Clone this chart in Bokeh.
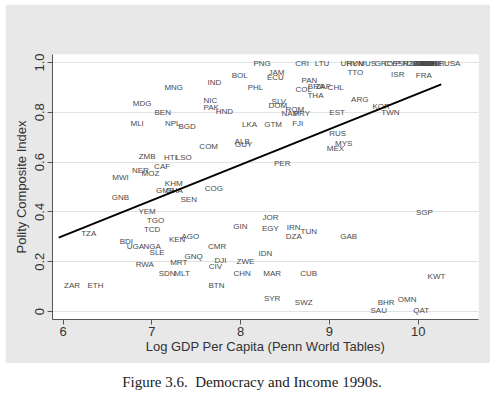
from bokeh.plotting import figure
from bokeh.models import ColumnDataSource, FixedTicker, Div
from bokeh.layouts import column
from bokeh.core.properties import value
from bokeh.embed import file_html
from bokeh.resources import INLINE

# ---- data ----
countries = [
    "MNG", "MDG", "BEN", "MLI", "NPL", "BGD",
    "PNG", "CRI", "LTU", "JAM", "ECU", "BOL", "IND", "PHL",
    "PAN", "COL", "BRA", "ZAF", "CHL", "THA",
    "NIC", "PAK", "HND", "SLV", "DOM", "ROM", "NAM", "PRY",
    "LKA", "GTM", "FJI", "COM", "ALB", "GUY",
    "URY", "HUN", "MUS", "GRC", "CYP", "ESP", "NZL", "GBR", "ITA", "AUS",
    "SWE", "NLD", "BEL", "DNK", "AUT", "CAN", "JPN", "CHE", "NOR", "USA",
    "TTO", "ISR", "FRA", "ARG", "KOR", "TWN", "EST", "RUS", "MYS", "MEX",
    "ZMB", "HTI", "LSO", "CAF", "NER", "MOZ", "MWI", "KHM", "GMB", "GHA",
    "GNB", "SEN", "YEM", "TGO", "TCD", "TZA", "KEN", "AGO", "BDI", "UGA",
    "NGA", "SLE", "RWA", "MRT", "SDN", "MLT", "ZAR", "ETH",
    "PER", "COG", "JOR", "GIN", "EGY", "IRN", "TUN", "DZA",
    "CMR", "GNQ", "DJI", "CIV", "ZWE", "IDN", "CHN", "MAR", "CUB", "BTN",
    "SYR", "SWZ", "SGP", "GAB", "KWT", "BHR", "OMN", "SAU", "QAT",
]
log_gdp = [
    7.246, 6.890, 7.122, 6.834, 7.235, 7.397,
    8.242, 8.693, 8.918, 8.403, 8.392, 7.990, 7.705, 8.167,
    8.775, 8.711, 8.850, 8.930, 9.070, 8.843,
    7.660, 7.667, 7.817, 8.430, 8.418, 8.610, 8.560, 8.690,
    8.100, 8.366, 8.643, 7.640, 8.017, 8.035,
    9.220, 9.290, 9.425, 9.610, 9.710, 9.800, 9.910, 9.970, 10.000, 10.050,
    10.060, 10.080, 10.100, 10.120, 10.100, 10.150, 10.130, 10.180, 10.200, 10.383,
    9.293, 9.770, 10.063, 9.342, 9.583, 9.688, 9.087, 9.094, 9.162, 9.068,
    6.946, 7.209, 7.359, 7.115, 6.871, 6.984, 6.646, 7.246, 7.150, 7.250,
    6.646, 7.415, 6.946, 7.040, 7.003, 6.288, 7.284, 7.434, 6.713, 6.815,
    7.003, 7.059, 6.920, 7.303, 7.172, 7.340, 6.101, 6.364,
    8.468, 7.697, 8.336, 7.998, 8.336, 8.598, 8.767, 8.598,
    7.735, 7.470, 7.772, 7.716, 8.054, 8.280, 8.017, 8.355, 8.767, 7.727,
    8.355, 8.711, 10.071, 9.218, 10.206, 9.640, 9.876, 9.556, 10.034,
]
polity = [
    0.898, 0.837, 0.798, 0.754, 0.754, 0.743,
    0.995, 0.995, 0.995, 0.961, 0.941, 0.948, 0.921, 0.898,
    0.928, 0.892, 0.905, 0.905, 0.900, 0.867,
    0.847, 0.818, 0.803, 0.845, 0.827, 0.810, 0.796, 0.794,
    0.751, 0.751, 0.756, 0.664, 0.684, 0.669,
    0.995, 0.995, 0.995, 0.995, 0.995, 0.995, 0.995, 0.995, 0.995, 0.995,
    0.995, 0.995, 0.995, 0.995, 0.995, 0.995, 0.995, 0.995, 0.995, 0.995,
    0.959, 0.950, 0.947, 0.853, 0.823, 0.800, 0.798, 0.714, 0.675, 0.653,
    0.622, 0.620, 0.620, 0.582, 0.566, 0.553, 0.537, 0.513, 0.486, 0.486,
    0.459, 0.449, 0.402, 0.365, 0.328, 0.312, 0.288, 0.301, 0.282, 0.261,
    0.261, 0.238, 0.188, 0.198, 0.151, 0.151, 0.104, 0.104,
    0.596, 0.493, 0.379, 0.341, 0.335, 0.336, 0.322, 0.301,
    0.262, 0.221, 0.205, 0.181, 0.201, 0.232, 0.154, 0.154, 0.154, 0.104,
    0.053, 0.037, 0.399, 0.301, 0.141, 0.037, 0.047, 0.004, 0.004,
]

# fitted line (endpoints)
fit_x = [5.95, 10.26]
fit_y = [0.297, 0.912]

x_ticks = [6, 7, 8, 9, 10]
y_ticks = [0, 0.2, 0.4, 0.6, 0.8, 1.0]
y_tick_labels = {0: "0", 0.2: "0.2", 0.4: "0.4", 0.6: "0.6", 0.8: "0.8", 1.0: "1.0"}

GRAY_BG = "#e8e8e8"
AXIS_COL = "#555555"
FONT = "Liberation Sans"

p = figure(width=485, height=359, output_backend="svg", toolbar_location=None,
           x_range=(5.88, 10.68), y_range=(-0.032, 1.032),
           min_border_left=47, min_border_right=12, min_border_top=50, min_border_bottom=44,
           margin=(4, 0, 0, 5))
p.border_fill_color = GRAY_BG
p.background_fill_color = "white"
p.outline_line_color = None

src = ColumnDataSource(dict(x=log_gdp, y=polity, lab=countries))
p.text(x="x", y="y", text="lab", source=src, text_align="center", text_baseline="middle",
       text_font=value(FONT), text_font_size="8px", text_color="#4a4a4a")
p.line(fit_x, fit_y, line_color="black", line_width=2)

p.xgrid.visible = False
p.ygrid.ticker = FixedTicker(ticks=y_ticks)
p.ygrid.grid_line_color = "#e2e2e2"
p.ygrid.grid_line_width = 1

p.xaxis.ticker = FixedTicker(ticks=x_ticks)
p.yaxis.ticker = FixedTicker(ticks=y_ticks)
p.yaxis.major_label_overrides = y_tick_labels
p.yaxis.major_label_orientation = "vertical"
for ax in (p.xaxis, p.yaxis):
    ax.axis_line_color = AXIS_COL
    ax.major_tick_line_color = AXIS_COL
    ax.minor_tick_line_color = None
    ax.major_tick_out = 5
    ax.major_tick_in = 0
    ax.major_label_text_font = FONT
    ax.major_label_text_font_size = "13px"
    ax.major_label_text_color = "#333333"
    ax.axis_label_text_font = FONT
    ax.axis_label_text_font_style = "normal"
    ax.axis_label_text_color = "#333333"
    ax.axis_label_text_font_size = "13px"
p.xaxis.axis_label = "Log GDP Per Capita (Penn World Tables)"
p.yaxis.axis_label = "Polity Composite Index"
p.xaxis.major_label_standoff = 2
p.xaxis.axis_label_standoff = 0
p.yaxis.major_label_standoff = 3
p.yaxis.axis_label_standoff = 4

cap = Div(text="Figure 3.6.&nbsp;&nbsp;Democracy and Income 1990s.", width=494, height=26,
          styles={"font-family": "Liberation Serif", "font-size": "15px", "color": "#222",
                  "text-align": "center", "width": "494px", "line-height": "20px",
                  "padding-top": "4px"})

layout = column(p, cap, spacing=0)
open("out.html", "w").write(file_html(layout, INLINE))
